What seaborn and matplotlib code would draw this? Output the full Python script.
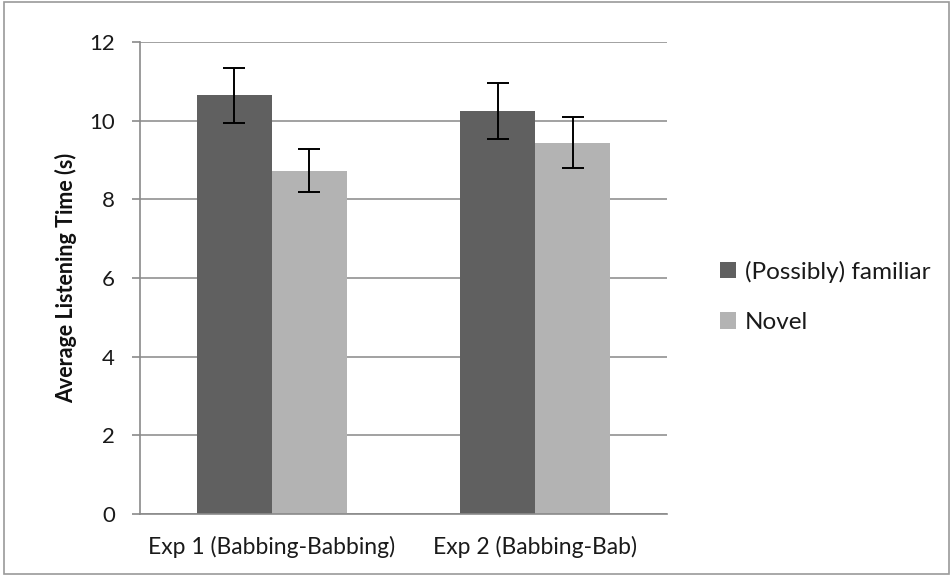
import pandas as pd
import numpy as np
import matplotlib
matplotlib.use("Agg")
import matplotlib.pyplot as plt
import seaborn as sns
from matplotlib.patches import Rectangle

# Data
experiments = ["Exp 1 (Babbing-Babbing)", "Exp 2 (Babbing-Bab)"]
conditions = ["(Possibly) familiar", "Novel"]
familiar_means = [10.64, 10.25]
novel_means = [8.73, 9.44]
familiar_err = [0.69, 0.72]
novel_err = [0.54, 0.65]
y_ticks = [0, 2, 4, 6, 8, 10, 12]

colors = ["#606060", "#b3b3b3"]


def main():
    df = pd.DataFrame({
        "experiment": experiments * 2,
        "condition": [conditions[0]] * 2 + [conditions[1]] * 2,
        "time": familiar_means + novel_means,
        "err": familiar_err + novel_err,
    })

    sns.set_style("white")
    plt.rcParams["font.family"] = ["Lato", "DejaVu Sans"]

    fig = plt.figure(figsize=(9.53, 5.78), dpi=100)
    ax = fig.add_axes([140 / 953, 1 - 514 / 578, (667 - 140) / 953, (514 - 42) / 578])

    sns.barplot(data=df, x="experiment", y="time", hue="condition",
                order=experiments, hue_order=conditions, palette=colors,
                width=0.57, errorbar=None, saturation=1, ax=ax,
                edgecolor="none", linewidth=0)

    # error bars at the bar centres placed by seaborn
    for bars, cond in zip(ax.containers, conditions):
        sub = df[df["condition"] == cond].set_index("experiment").loc[experiments]
        xs = [b.get_x() + b.get_width() / 2 for b in bars]
        ax.errorbar(xs, sub["time"], yerr=sub["err"], fmt="none",
                    ecolor="black", elinewidth=1.4, capsize=8, capthick=1.4, zorder=5)

    ax.set_ylim(0, 12)
    ax.set_xlim(-0.5, 1.5)
    ax.set_yticks(y_ticks)
    ax.set_yticklabels([str(t) for t in y_ticks], fontsize=16, color="#1a1a1a")
    ax.yaxis.grid(True, color="#9a9a9a", linewidth=1.3)
    ax.set_axisbelow(True)

    ax.set_xlabel("")
    ax.set_ylabel("Average Listening Time (s)", fontsize=15.5, fontweight="bold",
                  color="#111111", labelpad=9)
    ax.tick_params(axis="x", which="major", length=0, labelsize=16.5, pad=16,
                   labelcolor="#1a1a1a")
    ax.set_xticks([-0.5, 0.5, 1.5], minor=True)
    ax.tick_params(axis="x", which="minor", length=6, color="#8a8a8a", width=1.2)
    ax.tick_params(axis="y", length=6, color="#8a8a8a", width=1.2, left=True, pad=12)

    for side in ["top", "right"]:
        ax.spines[side].set_visible(False)
    for side in ["left", "bottom"]:
        ax.spines[side].set_color("#8a8a8a")
        ax.spines[side].set_linewidth(1.2)

    leg = ax.legend(loc="center left", bbox_to_anchor=(1.06, 0.46), frameon=False,
                    fontsize=17.5, handlelength=0.65, handleheight=0.65,
                    handletextpad=0.35, labelspacing=1.2)
    for t in leg.get_texts():
        t.set_color("#1a1a1a")

    # outer frame of the chart area
    fig.patches.append(Rectangle((4 / 953, 4 / 578), 945 / 953, 572 / 578,
                                 transform=fig.transFigure, fill=False,
                                 edgecolor="#9a9a9a", linewidth=1.2))

    fig.savefig("out.png", dpi=100)
    plt.close(fig)


if __name__ == "__main__":
    main()
